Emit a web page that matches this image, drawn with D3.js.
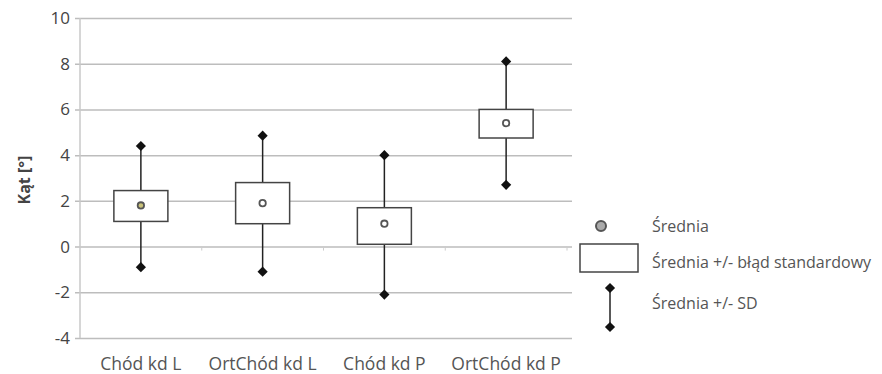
<!DOCTYPE html>
<html lang="pl">
<head>
<meta charset="UTF-8">
<title>Kąt</title>
<script src="https://d3js.org/d3.v7.min.js"></script>
<style>
  body { margin: 0; background: #fff; font-family: "Open Sans", sans-serif; }
  svg { display: block; }
</style>
</head>
<body>
<svg id="chart" width="882" height="374"></svg>
<script>
const categories = ["Chód kd L", "OrtChód kd L", "Chód kd P", "OrtChód kd P"];
const means   = [1.8, 1.9, 1.0, 5.4];
const seLow   = [1.1, 1.0, 0.1, 4.75];
const seHigh  = [2.45, 2.8, 1.7, 6.0];
const sdLow   = [-0.9, -1.1, -2.1, 2.7];
const sdHigh  = [4.4, 4.85, 4.0, 8.1];
const yTicks  = [-4, -2, 0, 2, 4, 6, 8, 10];
const legendLabels = ["Średnia", "Średnia +/- błąd standardowy", "Średnia +/- SD"];

const svg = d3.select("#chart");
const margin = {top: 18, right: 315, bottom: 36, left: 80};
const width = 882 - margin.left - margin.right,
      height = 374 - margin.top - margin.bottom;
const g = svg.append("g").attr("transform", `translate(${margin.left},${margin.top})`);

const x = d3.scaleBand().domain(categories).range([0, width]);
const y = d3.scaleLinear().domain([-4, 10]).range([height, 0]);

// gridlines + y labels
const yAxis = g.append("g")
  .call(d3.axisLeft(y).tickValues(yTicks).tickSize(-width - 5).tickPadding(10)
    .tickFormat(d => String(d)));
yAxis.select(".domain").remove();
yAxis.selectAll(".tick line").attr("stroke", "#bdbdbd").attr("stroke-width", 1.5).attr("x1", -5);
yAxis.selectAll(".tick text").attr("fill", "#444")
  .style("font-size", "17px").style("font-family", "'Open Sans', sans-serif");

// left axis line
g.append("line").attr("x1", 0).attr("x2", 0).attr("y1", 0).attr("y2", height)
  .attr("stroke", "#c8c8c8").attr("stroke-width", 1.5);

// small category ticks on zero line
g.selectAll(".cat-tick").data(categories).enter().append("line")
  .attr("x1", d => x(d) + x.bandwidth()).attr("x2", d => x(d) + x.bandwidth())
  .attr("y1", y(0)).attr("y2", y(0) + 4)
  .attr("stroke", "#ccc");

// x labels
g.selectAll(".xlab").data(categories).enter().append("text")
  .attr("x", d => x(d) + x.bandwidth() / 2)
  .attr("y", 370 - margin.top)
  .attr("text-anchor", "middle")
  .attr("fill", "#555")
  .style("font-size", "17.5px")
  .text(d => d);

// y title
svg.append("text")
  .attr("transform", "translate(30,180) rotate(-90)")
  .attr("text-anchor", "middle")
  .attr("fill", "#444")
  .style("font-size", "16px")
  .style("font-weight", "bold")
  .text("Kąt [°]");

const diamond = d3.symbol().type(d3.symbolSquare).size(52);
const boxW = 54;

const groups = g.selectAll(".grp").data(categories).enter().append("g")
  .attr("transform", d => `translate(${x(d) + x.bandwidth() / 2},0)`);

groups.append("line")
  .attr("y1", (d, i) => y(sdLow[i])).attr("y2", (d, i) => y(sdHigh[i]))
  .attr("stroke", "#222").attr("stroke-width", 1.5);

groups.append("rect")
  .attr("x", -boxW / 2).attr("width", boxW)
  .attr("y", (d, i) => y(seHigh[i]))
  .attr("height", (d, i) => y(seLow[i]) - y(seHigh[i]))
  .attr("fill", "#fff").attr("stroke", "#444").attr("stroke-width", 1.5);

groups.append("path").attr("d", diamond)
  .attr("transform", (d, i) => `translate(0,${y(sdHigh[i])}) rotate(45)`).attr("fill", "#111");
groups.append("path").attr("d", diamond)
  .attr("transform", (d, i) => `translate(0,${y(sdLow[i])}) rotate(45)`).attr("fill", "#111");

groups.append("circle")
  .attr("cy", (d, i) => y(means[i])).attr("r", 3.2)
  .attr("fill", (d, i) => i === 0 ? "#c9c27a" : "#fff")
  .attr("stroke", "#555").attr("stroke-width", 1.8);

// legend
const lg = svg.append("g");
lg.append("circle").attr("cx", 601).attr("cy", 226).attr("r", 5)
  .attr("fill", "#aaa").attr("stroke", "#555").attr("stroke-width", 2);
lg.append("rect").attr("x", 580).attr("y", 244).attr("width", 58).attr("height", 28)
  .attr("fill", "#fff").attr("stroke", "#444").attr("stroke-width", 1.5);
lg.append("line").attr("x1", 610).attr("x2", 610).attr("y1", 288).attr("y2", 327)
  .attr("stroke", "#222").attr("stroke-width", 1.5);
lg.append("path").attr("d", diamond).attr("transform", "translate(610,288) rotate(45)").attr("fill", "#111");
lg.append("path").attr("d", diamond).attr("transform", "translate(610,327) rotate(45)").attr("fill", "#111");

const legendY = [226, 262, 303];
lg.selectAll(".lt").data(legendLabels).enter().append("text")
  .attr("x", 652).attr("y", (d, i) => legendY[i])
  .attr("dy", "0.35em")
  .attr("fill", "#555")
  .style("font-size", "16px")
  .text(d => d);
</script>
</body>
</html>
